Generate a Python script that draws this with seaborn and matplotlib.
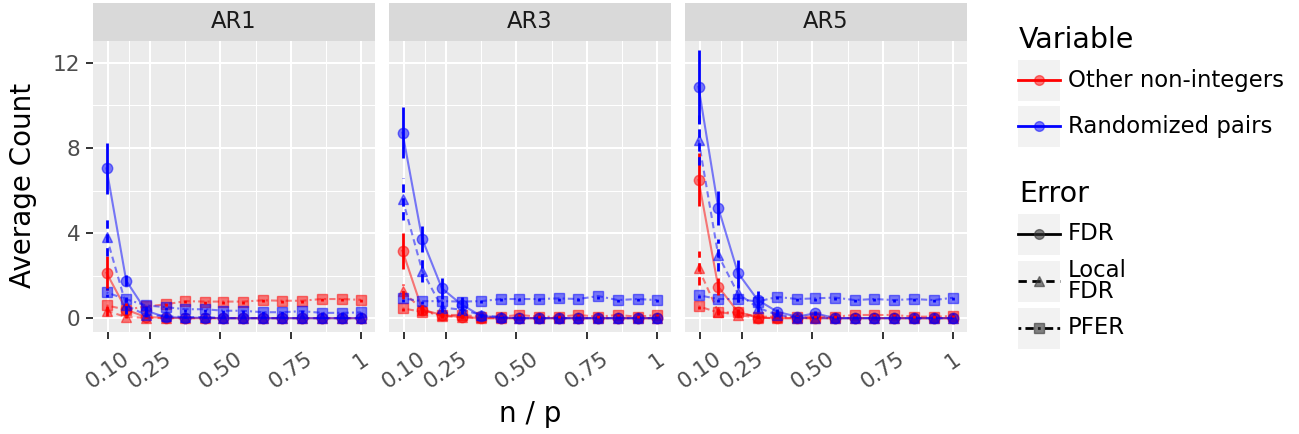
import numpy as np
import pandas as pd
import matplotlib
matplotlib.use("Agg")
import matplotlib.pyplot as plt
import seaborn as sns
from matplotlib.patches import Rectangle
from matplotlib.lines import Line2D

# x positions (n / p)
n_over_p = [0.095, 0.165, 0.235, 0.305, 0.375, 0.445, 0.51, 0.58, 0.65, 0.72, 0.79, 0.86, 0.93, 1.0]
x_breaks = [0.10, 0.25, 0.50, 0.75, 1.0]
x_labels = ["0.10", "0.25", "0.50", "0.75", "1"]
y_breaks = [0, 4, 8, 12]

panels = ["AR1", "AR3", "AR5"]
variables = ["Other non-integers", "Randomized pairs"]
errors = ["FDR", "Local FDR", "PFER"]

# ---- AR1 ----
ar1_other_fdr = [2.13, 0.4, 0.05, 0.02, 0, 0, 0, 0, 0, 0, 0, 0, 0, 0]
ar1_other_fdr_se = [0.8, 0.3, 0.05, 0.03, 0.02, 0.02, 0.02, 0.02, 0.02, 0.02, 0.02, 0.02, 0.02, 0.02]
ar1_other_lfdr = [0.35, 0.05, 0.02, 0, 0, 0, 0, 0, 0, 0, 0, 0, 0, 0]
ar1_other_lfdr_se = [0.25, 0.05, 0.02, 0.02, 0.02, 0.02, 0.02, 0.02, 0.02, 0.02, 0.02, 0.02, 0.02, 0.02]
ar1_other_pfer = [0.6, 0.4, 0.55, 0.65, 0.8, 0.78, 0.78, 0.78, 0.84, 0.82, 0.82, 0.9, 0.9, 0.86]
ar1_other_pfer_se = [0.15, 0.1, 0.1, 0.1, 0.1, 0.1, 0.1, 0.1, 0.1, 0.1, 0.1, 0.1, 0.1, 0.1]
ar1_rand_fdr = [7.04, 1.76, 0.35, 0.05, 0.02, 0.02, 0, 0, 0, 0, 0, 0, 0, 0]
ar1_rand_fdr_se = [1.2, 0.25, 0.15, 0.05, 0.03, 0.03, 0.02, 0.02, 0.02, 0.02, 0.02, 0.02, 0.02, 0.02]
ar1_rand_lfdr = [3.83, 0.6, 0.15, 0.1, 0.05, 0.05, 0, 0, 0, 0, 0, 0, 0, 0]
ar1_rand_lfdr_se = [0.9, 0.4, 0.1, 0.08, 0.05, 0.05, 0.02, 0.02, 0.02, 0.02, 0.02, 0.02, 0.02, 0.02]
ar1_rand_pfer = [1.21, 0.89, 0.6, 0.52, 0.42, 0.42, 0.35, 0.35, 0.28, 0.28, 0.33, 0.25, 0.25, 0.27]
ar1_rand_pfer_se = [0.2, 0.15, 0.15, 0.15, 0.12, 0.12, 0.1, 0.1, 0.1, 0.1, 0.1, 0.1, 0.1, 0.1]

# ---- AR3 ----
ar3_other_fdr = [3.17, 0.4, 0.15, 0.05, 0, 0, 0, 0, 0, 0, 0, 0, 0, 0]
ar3_other_fdr_se = [0.85, 0.2, 0.1, 0.05, 0.02, 0.02, 0.02, 0.02, 0.02, 0.02, 0.02, 0.02, 0.02, 0.02]
ar3_other_lfdr = [1.27, 0.4, 0.1, 0.05, 0, 0, 0, 0, 0, 0, 0, 0, 0, 0]
ar3_other_lfdr_se = [0.35, 0.2, 0.08, 0.05, 0.02, 0.02, 0.02, 0.02, 0.02, 0.02, 0.02, 0.02, 0.02, 0.02]
ar3_other_pfer = [0.46, 0.3, 0.15, 0.15, 0.07, 0.07, 0.15, 0.07, 0.07, 0.15, 0.07, 0.15, 0.07, 0.15]
ar3_other_pfer_se = [0.1, 0.08, 0.08, 0.08, 0.06, 0.06, 0.06, 0.06, 0.06, 0.06, 0.06, 0.06, 0.06, 0.06]
ar3_rand_fdr = [8.72, 3.72, 1.40, 0.64, 0.1, 0.02, 0, 0, 0, 0, 0, 0, 0, 0]
ar3_rand_fdr_se = [1.2, 0.6, 0.5, 0.35, 0.1, 0.03, 0.02, 0.02, 0.02, 0.02, 0.02, 0.02, 0.02, 0.02]
ar3_rand_lfdr = [5.6, 2.23, 0.5, 0.4, 0.15, 0.05, 0, 0, 0, 0, 0, 0, 0, 0]
ar3_rand_lfdr_se = [1.0, 0.55, 0.2, 0.2, 0.05, 0.03, 0.02, 0.02, 0.02, 0.02, 0.02, 0.02, 0.02, 0.02]
ar3_rand_pfer = [0.93, 0.8, 0.8, 0.78, 0.8, 0.9, 0.9, 0.9, 0.93, 0.9, 1.04, 0.85, 0.9, 0.85]
ar3_rand_pfer_se = [0.15, 0.12, 0.12, 0.12, 0.1, 0.1, 0.1, 0.1, 0.1, 0.1, 0.12, 0.1, 0.1, 0.1]

# ---- AR5 ----
ar5_other_fdr = [6.5, 1.48, 0.3, 0.02, 0, 0, 0, 0, 0, 0, 0, 0, 0, 0]
ar5_other_fdr_se = [1.25, 0.4, 0.15, 0.03, 0.02, 0.02, 0.02, 0.02, 0.02, 0.02, 0.02, 0.02, 0.02, 0.02]
ar5_other_lfdr = [2.34, 0.3, 0.15, 0.02, 0, 0, 0, 0, 0, 0, 0, 0, 0, 0]
ar5_other_lfdr_se = [0.8, 0.15, 0.1, 0.02, 0.02, 0.02, 0.02, 0.02, 0.02, 0.02, 0.02, 0.02, 0.02, 0.02]
ar5_other_pfer = [0.56, 0.27, 0.27, 0.07, 0.07, 0.07, 0.07, 0.07, 0.15, 0.15, 0.15, 0.07, 0.07, 0.1]
ar5_other_pfer_se = [0.12, 0.08, 0.08, 0.06, 0.06, 0.06, 0.06, 0.06, 0.06, 0.06, 0.06, 0.06, 0.06, 0.06]
ar5_rand_fdr = [10.88, 5.2, 2.13, 0.86, 0.3, 0.07, 0.23, 0, 0, 0, 0, 0, 0, 0]
ar5_rand_fdr_se = [1.75, 0.8, 0.6, 0.4, 0.15, 0.05, 0.1, 0.02, 0.02, 0.02, 0.02, 0.02, 0.02, 0.02]
ar5_rand_lfdr = [8.38, 2.96, 1.16, 0.5, 0.15, 0.02, 0, 0, 0, 0, 0, 0, 0, 0]
ar5_rand_lfdr_se = [1.2, 0.75, 0.4, 0.2, 0.08, 0.03, 0.02, 0.02, 0.02, 0.02, 0.02, 0.02, 0.02, 0.02]
ar5_rand_pfer = [1.08, 0.9, 0.9, 0.78, 1.0, 0.9, 0.93, 0.97, 0.85, 0.9, 0.85, 0.9, 0.85, 0.96]
ar5_rand_pfer_se = [0.15, 0.12, 0.12, 0.12, 0.1, 0.1, 0.1, 0.1, 0.1, 0.1, 0.1, 0.1, 0.1, 0.1]

series = {
    ("AR1", "Other non-integers", "FDR"): (ar1_other_fdr, ar1_other_fdr_se),
    ("AR1", "Other non-integers", "Local FDR"): (ar1_other_lfdr, ar1_other_lfdr_se),
    ("AR1", "Other non-integers", "PFER"): (ar1_other_pfer, ar1_other_pfer_se),
    ("AR1", "Randomized pairs", "FDR"): (ar1_rand_fdr, ar1_rand_fdr_se),
    ("AR1", "Randomized pairs", "Local FDR"): (ar1_rand_lfdr, ar1_rand_lfdr_se),
    ("AR1", "Randomized pairs", "PFER"): (ar1_rand_pfer, ar1_rand_pfer_se),
    ("AR3", "Other non-integers", "FDR"): (ar3_other_fdr, ar3_other_fdr_se),
    ("AR3", "Other non-integers", "Local FDR"): (ar3_other_lfdr, ar3_other_lfdr_se),
    ("AR3", "Other non-integers", "PFER"): (ar3_other_pfer, ar3_other_pfer_se),
    ("AR3", "Randomized pairs", "FDR"): (ar3_rand_fdr, ar3_rand_fdr_se),
    ("AR3", "Randomized pairs", "Local FDR"): (ar3_rand_lfdr, ar3_rand_lfdr_se),
    ("AR3", "Randomized pairs", "PFER"): (ar3_rand_pfer, ar3_rand_pfer_se),
    ("AR5", "Other non-integers", "FDR"): (ar5_other_fdr, ar5_other_fdr_se),
    ("AR5", "Other non-integers", "Local FDR"): (ar5_other_lfdr, ar5_other_lfdr_se),
    ("AR5", "Other non-integers", "PFER"): (ar5_other_pfer, ar5_other_pfer_se),
    ("AR5", "Randomized pairs", "FDR"): (ar5_rand_fdr, ar5_rand_fdr_se),
    ("AR5", "Randomized pairs", "Local FDR"): (ar5_rand_lfdr, ar5_rand_lfdr_se),
    ("AR5", "Randomized pairs", "PFER"): (ar5_rand_pfer, ar5_rand_pfer_se),
}

rows = []
for (panel, var, err), (means, ses) in series.items():
    for x, m, s in zip(n_over_p, means, ses):
        rows.append({"panel": panel, "Variable": var, "Error": err,
                     "np": x, "count": m, "lo": max(m - s, 0), "hi": m + s})
df = pd.DataFrame(rows)

palette = {"Other non-integers": "#FF0000", "Randomized pairs": "#0000FF"}
markers = {"FDR": "o", "Local FDR": "^", "PFER": "s"}
dashes = {"FDR": "", "Local FDR": (3, 2), "PFER": (1, 1.5, 3, 1.5)}
bar_styles = {"FDR": "solid", "Local FDR": (0, (3, 2)), "PFER": (0, (1, 1.5, 3, 1.5))}

W, H = 1299, 434
fig = plt.figure(figsize=(W / 100, H / 100), dpi=100)

def px_box(x0, y0, x1, y1):
    return [x0 / W, 1 - y1 / H, (x1 - x0) / W, (y1 - y0) / H]

panel_left = [93, 389, 685]
pw = 282
for k, panel in enumerate(panels):
    x0 = panel_left[k]
    ax = fig.add_axes(px_box(x0, 41, x0 + pw, 332))
    ax.set_facecolor("#EBEBEB")
    for sp in ax.spines.values():
        sp.set_visible(False)
    sub = df[df["panel"] == panel]
    sns.lineplot(data=sub, x="np", y="count", hue="Variable", style="Error",
                 hue_order=variables, style_order=errors,
                 palette=palette, markers=markers, dashes=dashes,
                 alpha=0.5, lw=1.5, markersize=7.5, markeredgewidth=1,
                 errorbar=None, legend=False, ax=ax, zorder=3)
    for line in ax.get_lines():
        line.set_markeredgecolor(line.get_color())
    for (var, err), g in sub.groupby(["Variable", "Error"]):
        ax.vlines(g["np"], g["lo"], g["hi"], colors=palette[var],
                  linestyles=bar_styles[err], lw=2, zorder=4)

    ax.set_xlim(0.047, 1.049)
    ax.set_ylim(-0.65, 13.03)
    ax.set_xticks(x_breaks)
    ax.set_xticklabels(x_labels, rotation=35)
    ax.set_xticks([0.175, 0.375, 0.625, 0.875], minor=True)
    ax.set_yticks(y_breaks)
    ax.set_yticks([2, 6, 10], minor=True)
    ax.grid(which="major", color="white", lw=1.45)
    ax.grid(which="minor", color="white", lw=0.75)
    ax.set_axisbelow(True)
    ax.tick_params(which="major", length=5, width=1.4, color="#333333",
                   labelsize=15.6, labelcolor="#4D4D4D", pad=4)
    ax.tick_params(axis="x", which="major", pad=7)
    ax.tick_params(which="minor", length=0)
    ax.set_xlabel("")
    ax.set_ylabel("")
    if k > 0:
        ax.tick_params(axis="y", which="both", left=False, labelleft=False)

    strip = fig.add_axes(px_box(x0, 3, x0 + pw, 41))
    strip.set_facecolor("#D9D9D9")
    strip.set_xticks([])
    strip.set_yticks([])
    for sp in strip.spines.values():
        sp.set_visible(False)
    strip.text(0.5, 0.5, panel, ha="center", va="center", fontsize=16.3,
               color="#1A1A1A", transform=strip.transAxes)

# axis titles and legend drawn in pixel space
ov = fig.add_axes([0, 0, 1, 1], facecolor="none")
ov.set_xlim(0, W)
ov.set_ylim(H, 0)
ov.axis("off")
ov.text(530, 414, "n / p", ha="center", va="center", fontsize=20)
ov.text(23, 185, "Average Count", ha="center", va="center", rotation=90, fontsize=20)

ov.text(1019, 40, "Variable", ha="left", va="center", fontsize=20.5)
for var, yc in zip(variables, [80, 126]):
    ov.add_patch(Rectangle((1018, yc - 20.5), 42, 41, facecolor="#F2F2F2", edgecolor="none"))
    ov.add_line(Line2D([1018, 1060], [yc, yc], color=palette[var], lw=2))
    ov.plot([1039], [yc], marker="o", ms=7, color=palette[var], alpha=0.5, mec=palette[var])
    ov.text(1068, yc, var, ha="left", va="center", fontsize=16.4)

ov.text(1019, 194, "Error", ha="left", va="center", fontsize=20.5)
err_labels = {"FDR": "FDR", "Local FDR": "Local\nFDR", "PFER": "PFER"}
for err, yc in zip(errors, [234, 281, 328]):
    ov.add_patch(Rectangle((1018, yc - 20.5), 42, 41, facecolor="#F2F2F2", edgecolor="none"))
    ov.add_line(Line2D([1018, 1060], [yc, yc], color="black", lw=2,
                       linestyle=bar_styles[err]))
    ov.plot([1039], [yc], marker=markers[err], ms=7, color="#333333", alpha=0.6, mec="#333333")
    ov.text(1068, yc, err_labels[err], ha="left", va="center", fontsize=16.4,
            linespacing=0.85)

fig.savefig("out.png", dpi=100)
